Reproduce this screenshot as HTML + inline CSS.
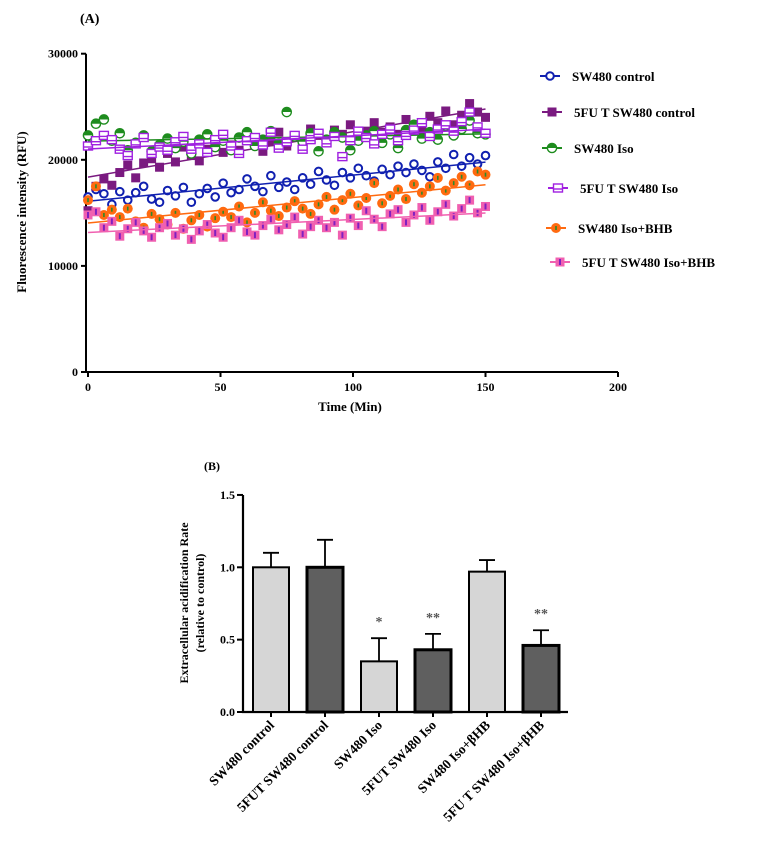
<!DOCTYPE html>
<html><head><meta charset="utf-8"><style>
body{margin:0;background:#fff;}
svg{display:block;font-family:"Liberation Serif",serif;font-weight:bold;}
</style></head><body>
<svg id="s" width="770" height="841" viewBox="0 0 770 841">
<text x="80" y="23" font-size="14">(A)</text>
<g id="chartA"></g>
<g id="legend"></g>
<text x="204" y="470" font-size="12">(B)</text>
<g id="chartB"></g>
</svg>
<script>
const times=[0,3,6,9,12,15,18,21,24,27,30,33,36,39,42,45,48,51,54,57,60,63,66,69,72,75,78,81,84,87,90,93,96,99,102,105,108,111,114,117,120,123,126,129,132,135,138,141,144,147,150];
const swControl=[16500,17200,16800,15800,17000,16200,16900,17500,16300,16000,17100,16600,17400,16000,16800,17300,16500,17800,16900,17200,18200,17500,17000,18500,17400,17900,17200,18300,17700,18900,18100,17600,18800,18300,19200,18500,18000,19100,18600,19400,18800,19600,19000,18400,19800,19200,20500,19400,20200,19600,20400];
const fuControl=[15200,17500,18200,17600,18800,19500,18300,19700,20100,19300,20600,19800,21200,20400,19900,21000,21800,20700,21400,20900,22000,21500,20800,21700,22600,21300,22100,21600,22900,22300,21800,22800,22400,23300,22000,22700,23500,22600,23100,22400,23800,23200,22700,24100,23500,24600,23300,24200,25300,24500,24000];
const swIso=[22300,23400,23800,21800,22500,20900,21600,22300,20800,21400,22000,21100,21700,20600,21900,22400,21200,21800,20900,22100,22600,21300,21900,22700,21500,24500,22200,21700,22500,20800,21900,22600,22100,20900,21800,22300,22700,21600,22400,21100,22800,23300,22000,22600,21900,23200,22300,22900,23700,22500,22400];
const fuIso=[21300,21800,22300,21900,21000,20400,21500,22100,20600,21200,20900,21700,22200,21000,21500,20700,21900,22400,21300,20600,21800,22100,21400,22600,21100,21700,22300,21000,21900,22500,21600,22200,20300,21800,22700,22100,21500,22400,22900,21800,22300,22800,23500,22200,22900,23300,22700,23600,24500,23100,22500];
const swIsoBhb=[16200,17500,14800,15300,14600,15400,14200,13600,14900,14400,13900,15000,13500,14300,14800,13700,14500,15100,14600,15600,14100,15000,16000,15200,14700,15500,16100,15400,14900,15800,16500,15300,16200,16800,15700,16400,17800,15900,16600,17200,16300,17700,16900,17500,18300,17100,17800,18400,17600,18900,18600];
const fuIsoBhb=[14800,15100,13600,14200,12800,13500,14100,13300,12700,13600,14000,12900,13500,12500,13300,13900,13100,12700,13600,14300,13200,12900,13800,14400,13400,13900,14600,13000,13700,14300,13600,14100,12900,14500,13800,15200,14400,13700,14900,15300,14100,14800,15500,14300,15100,15800,14700,15400,16200,15000,15600];
const seriesNames=["SW480 control","5FU T SW480 control","SW480 Iso","5FU T SW480 Iso","SW480 Iso+BHB","5FU T SW480 Iso+BHB"];
const yTicksA=[0,10000,20000,30000];
const xTicksA=[0,50,100,150,200];
const categories=["SW480 control","5FUT SW480 control","SW480 Iso","5FUT SW480 Iso","SW480 Iso+βHB","5FU T SW480 Iso+βHB"];
const barValues=[1.0,1.0,0.35,0.43,0.97,0.46];
const errValues=[0.1,0.19,0.16,0.11,0.08,0.105];
const sigLabels=["","","*","**","","**"];
const yTicksB=[0.0,0.5,1.0,1.5];

const NS="http://www.w3.org/2000/svg";
function mk(p,t,a,txt){const e=document.createElementNS(NS,t);for(const k in a)e.setAttribute(k,a[k]);if(txt!==undefined)e.textContent=txt;p.appendChild(e);return e;}
const A=document.getElementById('chartA');
const xA=v=>88+v*2.65, yA=v=>372-v*0.01061;
let ax=mk(A,'path',{d:`M${xA(0)-2} ${yA(30000)} V${yA(0)} H${xA(200)}`,fill:'none',stroke:'#000','stroke-width':2});

yTicksA.forEach(t=>{const y=yA(t);
 const l=mk(A,'line',{x1:xA(0)-7,x2:xA(0)-2,y1:y,y2:y,stroke:'#000','stroke-width':2});
 const tx=mk(A,'text',{x:xA(0)-10,y:y+4,'font-size':12,'text-anchor':'end'},t);});
xTicksA.forEach(t=>{const x=xA(t);
 const l=mk(A,'line',{x1:x,x2:x,y1:yA(0),y2:yA(0)+5,stroke:'#000','stroke-width':2});
 const tx=mk(A,'text',{x:x,y:yA(0)+19,'font-size':12,'text-anchor':'middle'},t);});
let t1=mk(A,'text',{x:350,y:411,'font-size':13,'text-anchor':'middle'},'Time (Min)');
let t2=mk(A,'text',{x:0,y:0,'font-size':13,'text-anchor':'middle',transform:`translate(26,212) rotate(-90)`},'Fluorescence intensity (RFU)');

const styles=[
 {c:'#1020b0',m:'circ'},{c:'#7a1a80',m:'sq'},{c:'#1e8c1e',m:'half'},{c:'#a020e0',m:'osq'},{c:'#ff6a10',m:'dot'},{c:'#f060b0',m:'psq'}];
function marker(g,m,c,x,y){
 if(m==='circ')mk(g,'circle',{cx:x,cy:y,r:3.8,fill:'#fff',stroke:c,'stroke-width':2});
 else if(m==='sq')mk(g,'rect',{x:x-4.5,y:y-4.5,width:9,height:9,fill:c});
 else if(m==='half'){mk(g,'circle',{cx:x,cy:y,r:4.6,fill:'#fff',stroke:c,'stroke-width':1.4});mk(g,'path',{d:`M${x-4.6} ${y} A4.6 4.6 0 0 1 ${x+4.6} ${y}Z`,fill:c});}
 else if(m==='osq'){mk(g,'rect',{x:x-4.5,y:y-4,width:9,height:8,fill:'#fff',stroke:c,'stroke-width':1.4});mk(g,'line',{x1:x-4.5,x2:x+4.5,y1:y+1,y2:y+1,stroke:c,'stroke-width':1.4});}
 else if(m==='dot'){mk(g,'circle',{cx:x,cy:y,r:5,fill:c});mk(g,'rect',{x:x-0.8,y:y-2,width:1.6,height:4,fill:'#2a8a2a'});}
 else if(m==='psq'){mk(g,'rect',{x:x-4.5,y:y-4.5,width:9,height:9,fill:c});mk(g,'rect',{x:x-1,y:y-3,width:2,height:6,fill:'#8020c0'});}
}
const allSeries=[swControl,fuControl,swIso,fuIso,swIsoBhb,fuIsoBhb];
allSeries.forEach((s,i)=>{
 const g=mk(A,'g',{});
 s.forEach((v,j)=>marker(g,styles[i].m,styles[i].c,xA(times[j]),yA(v)));
 const n=s.length;let mx=0,my=0;for(let j=0;j<n;j++){mx+=times[j];my+=s[j];}mx/=n;my/=n;
 let sxy=0,sxx=0;for(let j=0;j<n;j++){sxy+=(times[j]-mx)*(s[j]-my);sxx+=(times[j]-mx)**2;}
 const b=sxy/sxx,a=my-b*mx,t0=times[0],tn=times[n-1];
 const fl=mk(g,'line',{x1:xA(t0),y1:yA(a+b*t0),x2:xA(tn),y2:yA(a+b*tn),stroke:styles[i].c,'stroke-width':1.5});
 
});
const L=document.getElementById('legend');
const legY=[76,112,148,188,228,262],legX=[540,542,542,548,546,550];
seriesNames.forEach((nm,i)=>{
 const g=mk(L,'g',{});
 mk(g,'line',{x1:legX[i],x2:legX[i]+20,y1:legY[i],y2:legY[i],stroke:styles[i].c,'stroke-width':2});
 marker(g,styles[i].m,styles[i].c,legX[i]+10,legY[i]);
 mk(g,'text',{x:legX[i]+32,y:legY[i]+5,'font-size':13},nm);
});

const B=document.getElementById('chartB');
const x0=243,bw=54,yB=v=>712-v*144.7;
const xB=i=>x0+28+i*bw;
let axb=mk(B,'path',{d:`M${x0} ${yB(1.5)} V${yB(0)} H568`,fill:'none',stroke:'#000','stroke-width':2.2});

yTicksB.forEach(t=>{const y=yB(t);
 const l=mk(B,'line',{x1:x0-6,x2:x0,y1:y,y2:y,stroke:'#000','stroke-width':2});
 const tx=mk(B,'text',{x:x0-8,y:y+4,'font-size':12,'text-anchor':'end'},t.toFixed(1));});
let yt=mk(B,'text',{x:0,y:0,'font-size':12,'text-anchor':'middle',transform:`translate(188,603) rotate(-90)`},'Extracellular acidification Rate');
let yt2=mk(B,'text',{x:0,y:0,'font-size':12,'text-anchor':'middle',transform:`translate(204,603) rotate(-90)`},'(relative to control)');
categories.forEach((c,i)=>{
 const cx=xB(i),dark=i%2===1;
 const eb=mk(B,'path',{d:`M${cx} ${yB(barValues[i])} V${yB(barValues[i]+errValues[i])} M${cx-8} ${yB(barValues[i]+errValues[i])} H${cx+8}`,stroke:'#000','stroke-width':1.8,fill:'none'});
 
 const r=mk(B,'rect',{x:cx-18,y:yB(barValues[i]),width:36,height:yB(0)-yB(barValues[i]),fill:dark?'#5f5f5f':'#d6d6d6',stroke:'#000','stroke-width':dark?3:2});
 
 if(sigLabels[i]){const s=mk(B,'text',{x:cx,y:yB(barValues[i]+errValues[i])-12,'font-size':14,'text-anchor':'middle',fill:'#555'},sigLabels[i]);}
 const tk=mk(B,'line',{x1:cx,x2:cx,y1:yB(0),y2:yB(0)+5,stroke:'#000','stroke-width':2});
 const lb=mk(B,'text',{x:0,y:0,'font-size':13.5,'text-anchor':'end',transform:`translate(${cx+4},${yB(0)+14}) rotate(-45)`},c);
});
</script>
</body></html>
